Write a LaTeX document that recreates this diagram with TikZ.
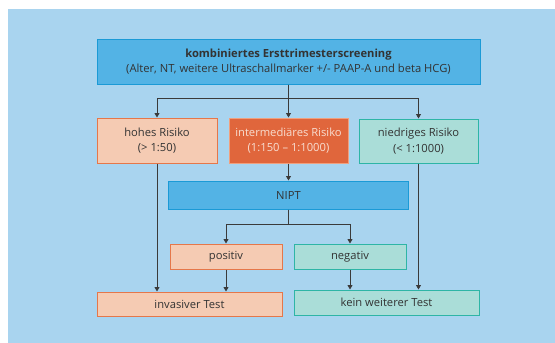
\documentclass[tikz,border=0pt]{standalone}
\usepackage{fontspec}
\setmainfont{Open Sans}
\usetikzlibrary{arrows.meta}
\definecolor{bg}{HTML}{A9D4EF}
\definecolor{bluefill}{HTML}{53B3E5}
\definecolor{blueline}{HTML}{1B9AD6}
\definecolor{orfill}{HTML}{F5CBB3}
\definecolor{orline}{HTML}{E5774A}
\definecolor{darkorfill}{HTML}{E0663C}
\definecolor{darkorline}{HTML}{F0A07E}
\definecolor{tealfill}{HTML}{AADDD8}
\definecolor{tealline}{HTML}{2EB5A6}
\definecolor{txt}{HTML}{333333}
\definecolor{lighttxt}{HTML}{F8DDD0}
\definecolor{arrowc}{HTML}{3A3A3A}
\tikzset{
  box/.style={draw, line width=1pt, inner sep=0pt, align=center, text=txt,
    font=\fontsize{11.2}{15.5}\selectfont},
  bluebox/.style={box, fill=bluefill, draw=blueline},
  orbox/.style={box, fill=orfill, draw=orline},
  darkbox/.style={box, fill=darkorfill, draw=darkorline, text=lighttxt},
  tealbox/.style={box, fill=tealfill, draw=tealline},
  arr/.style={draw=arrowc, line width=0.8pt, -{Triangle[length=4.5pt,width=5pt]}}
}
\begin{document}
\begin{tikzpicture}[x=1pt,y=-1pt]
\useasboundingbox (0,0) rectangle (555,343);
\fill[white] (0,0) rectangle (555,343);
\fill[bg] (8,9) rectangle (555,343);

\node[bluebox, minimum width=383pt, minimum height=45pt] (top) at (288.5,61.5)
  {\textbf{kombiniertes Ersttrimesterscreening}\\(Alter, NT, weitere Ultraschallmarker +/- PAAP-A und beta HCG)};
\node[orbox, minimum width=120pt, minimum height=45pt] (hohes) at (157,140.5)
  {hohes Risiko\\(> 1:50)};
\node[darkbox, minimum width=119pt, minimum height=45pt] (inter) at (288.5,140.5)
  {intermediäres Risiko\\(1:150 – 1:1000)};
\node[tealbox, minimum width=119pt, minimum height=44pt] (nied) at (418.5,141)
  {niedriges Risiko\\(< 1:1000)};
\node[bluebox, minimum width=240pt, minimum height=28pt] (nipt) at (288.5,195) {NIPT};
\node[orbox, minimum width=112pt, minimum height=25pt] (pos) at (226,256.5) {positiv};
\node[tealbox, minimum width=112pt, minimum height=25pt] (neg) at (350,256.5) {negativ};
\node[orbox, minimum width=185pt, minimum height=24pt] (inv) at (189.5,304) {invasiver Test};
\node[tealbox, minimum width=185pt, minimum height=25pt] (kein) at (386.5,302.5) {kein weiterer Test};

\draw[arr] (top.south) -- ++(0,14) -| (hohes.north);
\draw[arr] (top.south) -- ++(0,14) -| (nied.north);
\draw[arr] (top.south) -- (inter.north);
\draw[arr] (inter.south) -- (nipt.north);
\draw[arr] (nipt.south) -- ++(0,15) -| (pos.north);
\draw[arr] (nipt.south) -- ++(0,15) -| (neg.north);
\draw[arr] (hohes.south) -- (hohes.south |- inv.north);
\draw[arr] (pos.south) -- (pos.south |- inv.north);
\draw[arr] (neg.south) -- (neg.south |- kein.north);
\draw[arr] (nied.south) -- (nied.south |- kein.north);
\end{tikzpicture}
\end{document}
